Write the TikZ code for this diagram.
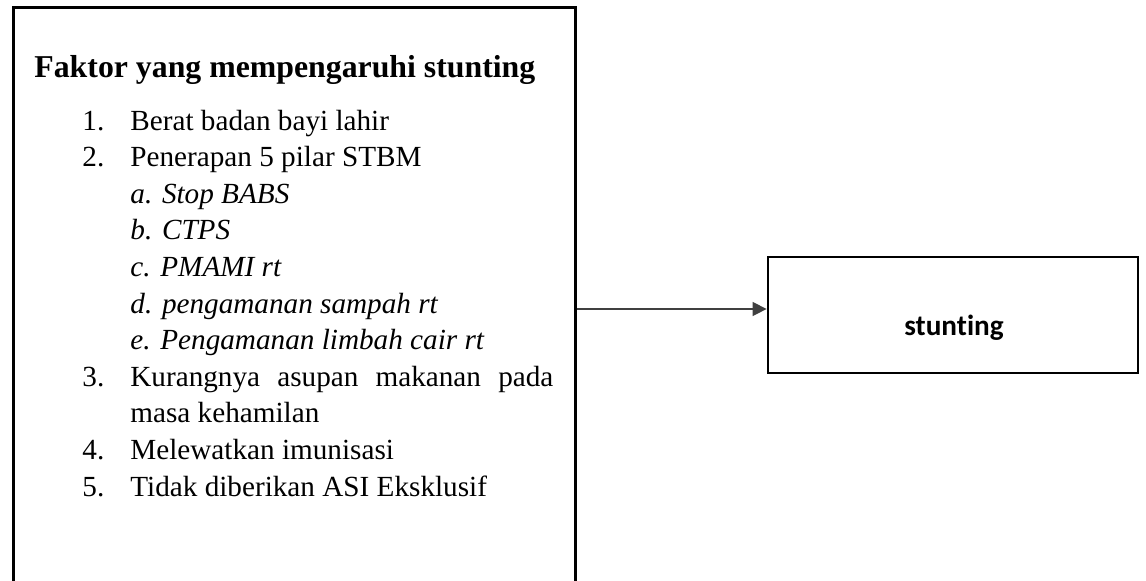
\documentclass[tikz,border=0pt]{standalone}
\usepackage{fontspec}
\setmainfont{Liberation Serif}
\newfontfamily\calibrifont[Ligatures=NoCommon]{Carlito}
\usetikzlibrary{arrows.meta}
\begin{document}
\begin{tikzpicture}[x=0.5pt,y=-0.5pt,
  frame/.style={draw=black, line width=1.4pt, inner sep=0pt, fill=none},
  listline/.style={anchor=base west, inner sep=0pt, font=\fontsize{14.6pt}{17pt}\selectfont},
  sublist/.style={listline, font=\fontsize{14.6pt}{17pt}\selectfont\itshape},
  heading/.style={anchor=base west, inner sep=0pt, font=\fontsize{15.9pt}{19pt}\selectfont\bfseries},
  link/.style={draw=black!75, line width=0.75pt, -{Triangle[length=7pt,width=7pt]}}
]
\useasboundingbox (0,0) rectangle (1146,580);
\clip (0,0) rectangle (1146,580);

% factor box (runs past the lower edge)
\node[frame, anchor=north west, minimum width=281pt, minimum height=320pt] (factors) at (12,6) {};

\node[heading] (title) at (34,77) {Faktor yang mempengaruhi stunting};

\node[listline] (n1) at (82,130) {1.};
\node[listline] (t1) at (130,130) {Berat badan bayi lahir};
\node[listline] (n2) at (82,166.6) {2.};
\node[listline] (t2) at (130,166.6) {Penerapan 5 pilar STBM};
\node[sublist] (sa) at (130,203.2) {a. Stop BABS};
\node[sublist] (sb) at (130,239.8) {b. CTPS};
\node[sublist] (sc) at (130,276.4) {c. PMAMI rt};
\node[sublist] (sd) at (130,313) {d. pengamanan sampah rt};
\node[sublist] (se) at (130,349.6) {e. Pengamanan limbah cair rt};
\node[listline] (n3) at (82,386.2) {3.};
\node[listline] (t3) at (130,386.2) {\makebox[211.5pt][s]{Kurangnya asupan makanan pada}};
\node[listline] (t3b) at (130,422.8) {masa kehamilan};
\node[listline] (n4) at (82,459.4) {4.};
\node[listline] (t4) at (130,459.4) {Melewatkan imunisasi};
\node[listline] (n5) at (82,496) {5.};
\node[listline] (t5) at (130,496) {Tidak diberikan ASI Eksklusif};

% outcome box
\node[frame, minimum width=185pt, minimum height=58pt] (result) at (953,315) {};
\node[anchor=base, inner sep=0pt, font=\calibrifont\fontsize{14.6pt}{17pt}\selectfont\bfseries] (resultlabel) at (954,335) {stunting};

\draw[link] (factors.east |- 0,309) -- (result.west |- 0,309);
\end{tikzpicture}
\end{document}
